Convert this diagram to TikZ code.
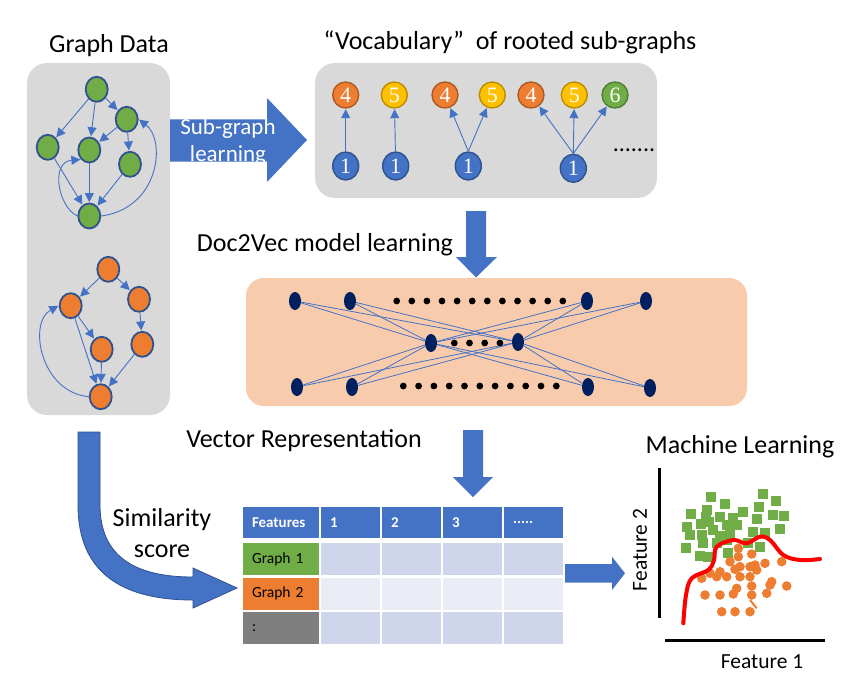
\documentclass[tikz,border=0pt]{standalone}
\usepackage{fontspec}
\setmainfont{Carlito}
\newfontfamily\numfont{Liberation Serif}
\usetikzlibrary{arrows.meta,shapes.geometric}
\definecolor{bluemain}{HTML}{4472C4}
\definecolor{bluedark}{HTML}{2F528F}
\definecolor{greenmain}{HTML}{70AD47}
\definecolor{greendark}{HTML}{507E32}
\definecolor{orangemain}{HTML}{ED7D31}
\definecolor{orangedark}{HTML}{AE5A21}
\definecolor{yellowmain}{HTML}{FFC000}
\definecolor{yellowdark}{HTML}{BC8C00}
\definecolor{panelgray}{HTML}{D9D9D9}
\definecolor{peach}{HTML}{F8CBAD}
\definecolor{navy}{HTML}{002060}
\definecolor{cellA}{HTML}{CFD5EA}
\definecolor{cellB}{HTML}{E9EBF5}
\definecolor{graycell}{HTML}{7F7F7F}
\definecolor{redline}{HTML}{FF0000}
\begin{document}
\begin{tikzpicture}[x=1pt,y=-1pt,
  lbl/.style={font=\fontsize{26}{31}\selectfont, inner sep=0},
  gnode/.style={ellipse, draw=bluedark, line width=1.8, minimum width=22, minimum height=25, inner sep=0},
  gedge/.style={draw=bluemain, line width=0.9, -{Triangle[length=9,width=9]}, shorten >=0.5},
  vnode/.style={circle, line width=1.4, minimum size=26, inner sep=0, text=white, font=\numfont\fontsize{22}{22}\selectfont},
  vroot/.style={ellipse, line width=1.4, minimum width=26, minimum height=28, inner sep=0, text=white, fill=bluemain, draw=bluedark, font=\numfont\fontsize{22}{22}\selectfont},
  nnode/.style={ellipse, fill=navy, minimum width=12, minimum height=18, inner sep=0},
  nedge/.style={draw=bluemain, line width=0.8},
  ndot/.style={fill=black},
  cell/.style={rectangle, inner xsep=9, inner ysep=0, align=left, font=\fontsize{15.5}{17}\selectfont},
  hcell/.style={cell, fill=bluemain, text=white, font=\bfseries\fontsize{15}{16}\selectfont},
  blockarrow/.style={fill=bluemain},
  sq/.style={fill=greenmain},
  dt/.style={fill=orangemain},
]
\useasboundingbox (0,0) rectangle (858,688);
\fill[white] (0,0) rectangle (858,688);

% ---------- Graph data panel ----------
\node[lbl] (tgraph) at (109,46) {Graph Data};
\fill[panelgray, rounded corners=20] (27,63) rectangle (170,415);

\node[gnode, fill=greenmain] (g1) at (96.7,89.3) {};
\node[gnode, fill=greenmain] (g2) at (126.7,119.3) {};
\node[gnode, fill=greenmain] (g3) at (47.7,147.3) {};
\node[gnode, fill=greenmain] (g4) at (89.3,150) {};
\node[gnode, fill=greenmain] (g5) at (130,164.3) {};
\node[gnode, fill=greenmain] (g6) at (89.3,216) {};
\draw[gedge] (g1) -- (g3);
\draw[gedge] (g1) -- (g4);
\draw[gedge] (g1) -- (g2);
\draw[gedge] (g2) -- (g4);
\draw[gedge] (g2) -- (g5);
\draw[gedge] (g3) -- (g6);
\draw[gedge] (g4) -- (g6);
\draw[gedge] (g5) -- (g6);
\draw[gedge] (g6.west) .. controls (58,207) and (50,162) .. (g4.south west);
\draw[gedge] (g6.east) .. controls (160,208) and (166,140) .. (g2.east);

\node[gnode, fill=orangemain] (o1) at (108.3,269.3) {};
\node[gnode, fill=orangemain] (o2) at (70.7,305.7) {};
\node[gnode, fill=orangemain] (o3) at (139,299.3) {};
\node[gnode, fill=orangemain] (o4) at (101.7,349.3) {};
\node[gnode, fill=orangemain] (o5) at (142.3,344.3) {};
\node[gnode, fill=orangemain] (o6) at (100.7,396.7) {};
\draw[gedge] (o1) -- (o2);
\draw[gedge] (o1) -- (o3);
\draw[gedge] (o3) -- (o5);
\draw[gedge] (o2) -- (o4);
\draw[gedge] (o2) -- (o6);
\draw[gedge] (o4) -- (o6);
\draw[gedge] (o5) -- (o6);
\draw[gedge] (o6.west) .. controls (40,392) and (28,322) .. (o2.west);

% ---------- Sub-graph learning arrow ----------
\fill[blockarrow] (170,119.3) -- (267,119.3) -- (267,98) -- (307,140) -- (267,182) -- (267,161.7) -- (170,161.7) -- cycle;
\node[text=white, font=\fontsize{23}{27}\selectfont, align=center, inner sep=0] (tsub) at (228,141.5) {Sub-graph\\learning};

% ---------- Vocabulary panel ----------
\node[lbl] (tvocab) at (510,42) {“Vocabulary”\ \ of rooted sub-graphs};
\fill[panelgray, rounded corners=20] (315,63) rectangle (657,198);

\node[vnode, fill=orangemain, draw=orangedark] (va4) at (345.7,95) {4};
\node[vnode, fill=yellowmain, draw=yellowdark] (vb5) at (394.3,95) {5};
\node[vnode, fill=orangemain, draw=orangedark] (vc4) at (445,95) {4};
\node[vnode, fill=yellowmain, draw=yellowdark] (vc5) at (492.3,95) {5};
\node[vnode, fill=orangemain, draw=orangedark] (vd4) at (531,95) {4};
\node[vnode, fill=yellowmain, draw=yellowdark] (vd5) at (574.3,95) {5};
\node[vnode, fill=greenmain, draw=greendark] (vd6) at (615,95) {6};
\node[vroot] (ra) at (345.7,166) {1};
\node[vroot] (rb) at (395.7,166) {1};
\node[vroot] (rc) at (468.3,166) {1};
\node[vroot] (rd) at (573.3,168.3) {1};
\draw[gedge] (ra) -- (va4);
\draw[gedge] (rb) -- (vb5);
\draw[gedge] (rc.north) -- (vc4);
\draw[gedge] (rc.north) -- (vc5);
\draw[gedge] (rd.north) -- (vd4);
\draw[gedge] (rd.north) -- (vd5);
\draw[gedge] (rd.north) -- (vd6);
\node[lbl, font=\fontsize{24}{28}\selectfont] (vdots) at (634,150) {.......};

% ---------- Doc2Vec ----------
\fill[blockarrow] (466,211) -- (486,211) -- (486,257) -- (497,257) -- (476,277.5) -- (456,257) -- (466,257) -- cycle;
\node[lbl] (tdoc) at (325,245) {Doc2Vec model learning};
\fill[peach, rounded corners=18] (246,278) rectangle (747,406);

\node[nnode] (n1) at (295,301) {};
\node[nnode] (n2) at (350,301) {};
\node[nnode] (n3) at (587,301) {};
\node[nnode] (n4) at (646,301) {};
\node[nnode] (m1) at (431,343) {};
\node[nnode] (m2) at (518,342) {};
\node[nnode] (b1) at (297,387) {};
\node[nnode] (b2) at (352,387) {};
\node[nnode] (b3) at (588,387) {};
\node[nnode] (b4) at (650,388) {};
\foreach \a in {n1,n2,n3,n4,b1,b2,b3,b4}{
  \draw[nedge] (\a) -- (m1);
  \draw[nedge] (\a) -- (m2);
}
\foreach \i in {0,...,11}{\fill[ndot] (396.7+15.1*\i,301) circle (3.4);}
\foreach \i in {0,...,3}{\fill[ndot] (454.3+15.2*\i,343) circle (3.4);}
\foreach \i in {0,...,10}{\fill[ndot] (403.3+15.3*\i,386) circle (3.4);}

% ---------- Vector representation ----------
\fill[blockarrow] (463,430) -- (483,430) -- (483,477) -- (493,477) -- (473,497) -- (453,477) -- (463,477) -- cycle;
\node[lbl] (tvec) at (304,441) {Vector Representation};

% ---------- Table ----------
\node[hcell, text width=58, minimum height=31] (h0) at (281,522.5) {Features};
\node[hcell, text width=41, minimum height=31] (h1) at (350.5,522.5) {1};
\node[hcell, text width=41, minimum height=31] (h2) at (411.5,522.5) {2};
\node[hcell, text width=41, minimum height=31] (h3) at (472.5,522.5) {3};
\node[hcell, text width=41, minimum height=31] (h4) at (533.5,522.5) {.....};
\node[cell, fill=greenmain, text width=58, minimum height=31.5] (r1) at (281,559.2) {Graph 1};
\node[cell, fill=orangemain, text width=58, minimum height=32] (r2) at (281,593.5) {Graph 2};
\node[cell, fill=graycell, text width=58, minimum height=32] (r3) at (281,628) {:};
\foreach \c/\x in {1/350.5,2/411.5,3/472.5,4/533.5}{
  \node[cell, fill=cellA, text width=41, minimum height=31.5] (ca\c) at (\x,559.2) {};
  \node[cell, fill=cellB, text width=41, minimum height=32] (cb\c) at (\x,593.5) {};
  \node[cell, fill=cellA, text width=41, minimum height=32] (cc\c) at (\x,628) {};
}

% ---------- Similarity score arrow ----------
\filldraw[fill=bluemain, draw=bluedark, line width=0.8] (78,432) -- (78,505) .. controls (78,575) and (125,600) .. (193,600) -- (193,608) -- (237,588) -- (193,568) -- (193,577) .. controls (140,577) and (100,560) .. (100,505) -- (100,432) -- cycle;
\node[lbl, align=center] (tsim) at (162,533) {Similarity\\score};

% ---------- Arrow to ML ----------
\fill[blockarrow] (565,564) -- (612,564) -- (612,556.7) -- (625,573.3) -- (612,590) -- (612,582.7) -- (565,582.7) -- cycle;

% ---------- Machine learning ----------
\node[lbl] (tml) at (740,447) {Machine Learning};
\draw[line width=3] (659.3,468) -- (659.3,618.3);
\draw[line width=3] (665,640.7) -- (825,640.7);
\node[font=\fontsize{21.5}{25}\selectfont, rotate=90, inner sep=0] (tf2) at (640,550) {Feature 2};
\node[font=\fontsize{21.5}{25}\selectfont, inner sep=0] (tf1) at (762,662) {Feature 1};

\foreach \x/\y in {762.7/494,710.7/496.7,725/504,776/500.7,706.7/510,742.7/511.7,759.3/507.3,691.3/514,706/517.3,720/517.3,733.3/518.3,773.3/515,784/516,756.7/519.3,686.7/527.3,700.7/524,709.3/521.7,726.7/525,737.3/525,780/529,690/535,701.7/535,713.3/530,720/536,730/533.3,753.3/531.7,765/533.3,686/548.3,703.3/543.3,716.7/543.3,726.7/540,700/556,728.3/553.3,760/546.7,708.3/556.7,748.3/543.3}{
  \fill[sq] (\x-5,\y-5) rectangle (\x+5,\y+5);
}
\foreach \x/\y in {738.3/548.3,738.3/556.7,751.7/554,720/571.7,735/569.3,740/566.7,755/565,765/563.3,781.7/561.7,701.7/578.3,716.7/576.7,750/576.7,756.7/570,771.7/581.7,786.7/586,736.7/588.3,751.7/586,770/585,705/595,720/595,733.3/594,751.7/595,766.7/593.3,721.7/611.7,735/611.7,750/611.7,710/573.3,726.7/576.7,740/576.7,730/561.7,750/566.7}{
  \fill[dt] (\x,\y) circle (4.8);
}
\draw[orangemain, line width=2] (750,600) -- (756.7,608.3);
\draw[redline, line width=4, line cap=round] plot[smooth, tension=0.6] coordinates {(683.3,623.3) (686,595) (691.7,578.3) (708.3,570) (714,560) (716.7,546.7) (733.3,540) (746.7,543.3) (760,536.7) (770,540) (783.3,555) (800,560) (820,559)};
\end{tikzpicture}
\end{document}
